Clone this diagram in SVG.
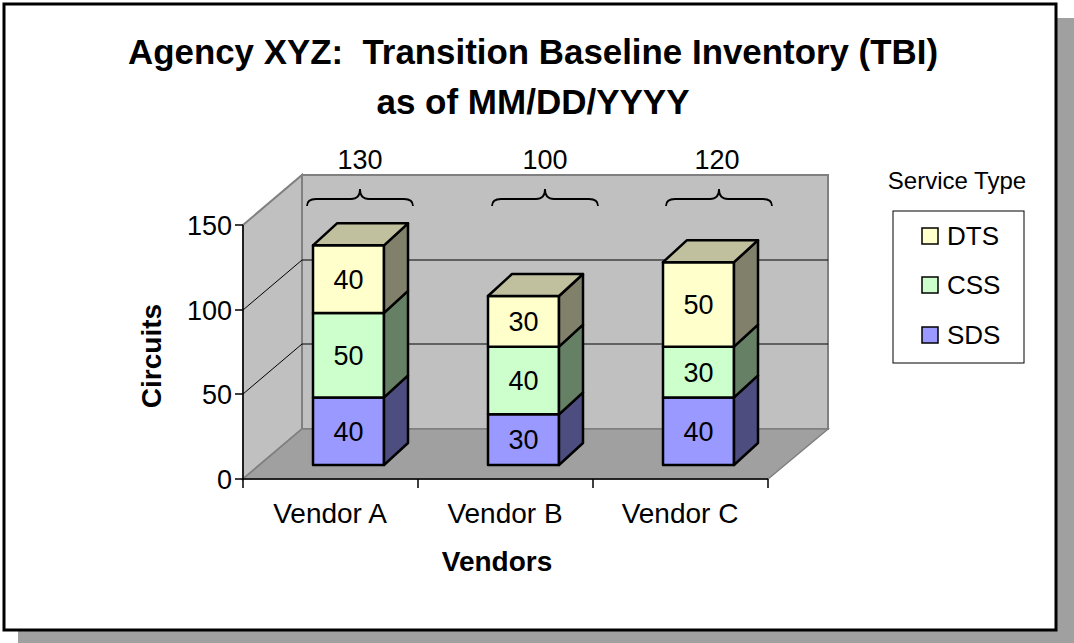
<svg xmlns="http://www.w3.org/2000/svg" width="1074" height="643" viewBox="0 0 1074 643">
<style>
text{font-family:"Liberation Sans",Arial,sans-serif;fill:#000}
.t{font-weight:bold;font-size:35px;text-anchor:middle}
.ax{font-size:27px}
.cat{font-size:28px;text-anchor:middle}
.r{text-anchor:end}
.m{text-anchor:middle}
.v{font-size:27px;text-anchor:middle}
.b{font-weight:bold;font-size:28px;text-anchor:middle}
.wall{fill:#c0c0c0;stroke:#808080;stroke-width:2}
.grid{stroke:#000;stroke-width:1;fill:none}
.ln{stroke:#000;stroke-width:1.5;fill:none}
.edge{stroke:#000;stroke-width:2.5;stroke-linejoin:round}
.sdsF{fill:#9999ff}.sdsS{fill:#4d4d80}
.cssF{fill:#ccffcc}.cssS{fill:#668066}
.dtsF{fill:#ffffcc}.dtsS{fill:#80806b}.dtsT{fill:#c0c09f}
.brace{stroke:#000;stroke-width:1.8;fill:none}
.lg{font-size:26px}
</style>
<rect x="18" y="18" width="1060" height="630" fill="#a0a0a0"/>
<rect x="4" y="4" width="1052" height="626" fill="#fff" stroke="#000" stroke-width="3"/>
<g id="title">
<text class="t" x="533" y="64" textLength="810" lengthAdjust="spacingAndGlyphs">Agency XYZ:&#160; Transition Baseline Inventory (TBI)</text>
<text class="t" x="533" y="114">as of MM/DD/YYYY</text>
</g>
<g id="plot-area">
<polygon class="wall" points="302,175 828,175 828,429 302,429"/>
<polygon class="wall" points="243,225 302,175 302,429 243,479"/>
<polygon fill="#a0a0a0" stroke="#808080" stroke-width="1.5" points="243,479 768,479 828,429 302,429"/>
<polyline class="grid" points="243,310 302,260 828,260"/>
<polyline class="grid" points="243,394 302,344 828,344"/>
</g>
<g id="axes">
<line class="ln" x1="243" y1="225" x2="243" y2="480"/>
<line class="ln" x1="242" y1="479" x2="768" y2="479"/>
<line class="ln" x1="235" y1="225" x2="243" y2="225"/>
<line class="ln" x1="235" y1="310" x2="243" y2="310"/>
<line class="ln" x1="235" y1="394" x2="243" y2="394"/>
<line class="ln" x1="235" y1="479" x2="243" y2="479"/>
<line class="ln" x1="243" y1="479" x2="243" y2="488"/>
<line class="ln" x1="418" y1="479" x2="418" y2="488"/>
<line class="ln" x1="593" y1="479" x2="593" y2="488"/>
<line class="ln" x1="768" y1="479" x2="768" y2="488"/>
<text class="ax r" x="232" y="235">150</text>
<text class="ax r" x="232" y="320">100</text>
<text class="ax r" x="232" y="404">50</text>
<text class="ax r" x="232" y="489">0</text>
<text class="cat" x="330" y="523">Vendor A</text>
<text class="cat" x="505" y="523">Vendor B</text>
<text class="cat" x="680" y="523">Vendor C</text>
<text class="b" x="497" y="571">Vendors</text>
<text class="b" font-size="29" transform="translate(161,356) rotate(-90)">Circuits</text>
</g>
<g id="vendor-a">
<polygon class="sdsF edge" points="313,465 384,465 384,397.4 313,397.4"/>
<polygon class="sdsS edge" points="384,465 408,443 408,375.4 384,397.4"/>
<polygon class="cssF edge" points="313,397.4 384,397.4 384,312.9 313,312.9"/>
<polygon class="cssS edge" points="384,397.4 408,375.4 408,290.9 384,312.9"/>
<polygon class="dtsF edge" points="313,312.9 384,312.9 384,245.3 313,245.3"/>
<polygon class="dtsS edge" points="384,312.9 408,290.9 408,223.3 384,245.3"/>
<polygon class="dtsT edge" points="313,245.3 384,245.3 408,223.3 337,223.3"/>
<text class="v" x="348.5" y="441">40</text>
<text class="v" x="348.5" y="365">50</text>
<text class="v" x="348.5" y="289">40</text>
<path class="brace" d="M307,206 Q307,199 316,199 L351,199 Q360,199 360,189 Q360,199 369,199 L404,199 Q413,199 413,206"/>
<text class="ax m" x="360" y="169">130</text>
</g>
<g id="vendor-b">
<polygon class="sdsF edge" points="488,465 559,465 559,414.3 488,414.3"/>
<polygon class="sdsS edge" points="559,465 583,443 583,392.3 559,414.3"/>
<polygon class="cssF edge" points="488,414.3 559,414.3 559,346.7 488,346.7"/>
<polygon class="cssS edge" points="559,414.3 583,392.3 583,324.7 559,346.7"/>
<polygon class="dtsF edge" points="488,346.7 559,346.7 559,296 488,296"/>
<polygon class="dtsS edge" points="559,346.7 583,324.7 583,274 559,296"/>
<polygon class="dtsT edge" points="488,296 559,296 583,274 512,274"/>
<text class="v" x="523.5" y="449">30</text>
<text class="v" x="523.5" y="390">40</text>
<text class="v" x="523.5" y="331">30</text>
<path class="brace" d="M492,206 Q492,199 501,199 L536,199 Q545,199 545,189 Q545,199 554,199 L589,199 Q598,199 598,206"/>
<text class="ax m" x="545" y="169">100</text>
</g>
<g id="vendor-c">
<polygon class="sdsF edge" points="663,465 734,465 734,397.4 663,397.4"/>
<polygon class="sdsS edge" points="734,465 758,443 758,375.4 734,397.4"/>
<polygon class="cssF edge" points="663,397.4 734,397.4 734,346.7 663,346.7"/>
<polygon class="cssS edge" points="734,397.4 758,375.4 758,324.7 734,346.7"/>
<polygon class="dtsF edge" points="663,346.7 734,346.7 734,262.2 663,262.2"/>
<polygon class="dtsS edge" points="734,346.7 758,324.7 758,240.2 734,262.2"/>
<polygon class="dtsT edge" points="663,262.2 734,262.2 758,240.2 687,240.2"/>
<text class="v" x="698.5" y="441">40</text>
<text class="v" x="698.5" y="382">30</text>
<text class="v" x="698.5" y="314">50</text>
<path class="brace" d="M666,206 Q666,199 675,199 L710,199 Q719,199 719,189 Q719,199 728,199 L763,199 Q772,199 772,206"/>
<text class="ax m" x="717" y="169">120</text>
</g>
<g id="legend">
<text x="957" y="189" font-size="24" text-anchor="middle">Service Type</text>
<rect x="893" y="211" width="131" height="152" fill="#fff" stroke="#000" stroke-width="1"/>
<rect x="922" y="228" width="16" height="16" class="dtsF" stroke="#000" stroke-width="1.5"/>
<rect x="922" y="277" width="16" height="16" class="cssF" stroke="#000" stroke-width="1.5"/>
<rect x="922" y="327" width="16" height="16" class="sdsF" stroke="#000" stroke-width="1.5"/>
<text class="lg" x="947" y="245">DTS</text>
<text class="lg" x="947" y="294">CSS</text>
<text class="lg" x="947" y="344">SDS</text>
</g>
</svg>
